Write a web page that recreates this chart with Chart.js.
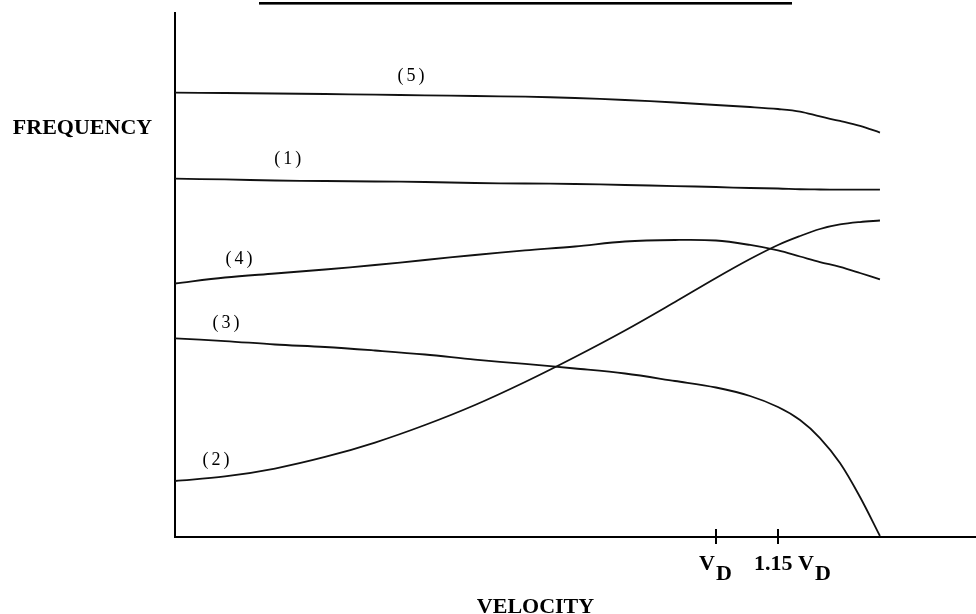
<!DOCTYPE html>
<html><head><meta charset="utf-8">
<script src="https://cdn.jsdelivr.net/npm/chart.js@4/dist/chart.umd.min.js"></script>
<style>html,body{margin:0;padding:0;background:#fff;overflow:hidden}</style>
</head><body>
<canvas id="c" width="976" height="614" style="display:block;width:976px;height:614px"></canvas>
<script>
// x: velocity (arbitrary units, axis spans 0..100); y: frequency (arbitrary units, 0..100)
const velocity = [0, 6.24, 12.48, 18.73, 24.97, 31.21, 37.45, 43.70, 49.94, 56.18, 62.42, 67.54, 71.79, 75.28, 78.03, 80.52, 83.02, 85.52, 88.01];
const curve1 = [68.38, 68.23, 68.03, 67.94, 67.84, 67.75, 67.56, 67.46, 67.37, 67.18, 66.98, 66.79, 66.60, 66.51, 66.36, 66.32, 66.30, 66.29, 66.28];
const curve2 = [10.69, 11.55, 13.07, 15.27, 18.03, 21.37, 25.19, 29.58, 34.35, 39.41, 44.85, 49.43, 53.05, 55.73, 57.44, 58.78, 59.64, 60.11, 60.40];
const curve3 = [37.92, 37.40, 36.74, 36.26, 35.59, 34.83, 33.84, 33.02, 32.16, 31.20, 29.77, 28.53, 26.91, 24.81, 22.33, 18.89, 14.12, 7.63, 0.19];
const curve4 = [48.38, 49.52, 50.29, 51.05, 51.91, 52.86, 53.82, 54.68, 55.44, 56.39, 56.68, 56.58, 55.73, 54.68, 53.53, 52.48, 51.53, 50.38, 49.18];
const curve5 = [84.79, 84.73, 84.64, 84.54, 84.41, 84.29, 84.16, 84.03, 83.78, 83.40, 82.92, 82.44, 82.06, 81.68, 81.20, 80.25, 79.39, 78.44, 77.19];
const seriesNames = ['(1)', '(2)', '(3)', '(4)', '(5)'];
const labelVelocity = [14.07, 5.12, 6.37, 7.99, 29.46];
const labelFrequency = [72.0, 14.69, 40.84, 53.05, 87.84];
const tickValues = [67.54, 75.28];
const tickMain = ['V', '1.15 V'];
const tickSub = ['D', 'D'];
const xTitle = 'VELOCITY';
const yTitle = 'FREQUENCY';

const allCurves = [curve1, curve2, curve3, curve4, curve5];
const datasets = allCurves.map((c, i) => ({
  label: seriesNames[i],
  data: velocity.map((v, j) => ({x: v, y: c[j]})),
  borderColor: '#111',
  borderWidth: 1.8,
  pointRadius: 0,
  fill: false,
  tension: 0.35,
  clip: false
}));

const serif = "'Liberation Serif', 'Times New Roman', serif";

const decor = {
  id: 'decor',
  afterDraw(chart) {
    const ctx = chart.ctx;
    const xs = chart.scales.x, ys = chart.scales.y;
    ctx.save();
    ctx.fillStyle = '#000';
    ctx.strokeStyle = '#000';
    // title underline
    ctx.fillRect(259, 2, 533, 2.6);
    // axis titles
    ctx.font = "bold 22px " + serif;
    ctx.textAlign = 'center';
    ctx.textBaseline = 'alphabetic';
    ctx.fillText(yTitle, 82.5, 133.5);
    ctx.fillText(xTitle, 535.5, 613);
    // tick marks and labels
    ctx.lineWidth = 2;
    tickValues.forEach((v, i) => {
      const px = Math.round(xs.getPixelForValue(v));
      ctx.beginPath();
      ctx.moveTo(px, ys.bottom - 8);
      ctx.lineTo(px, ys.bottom + 7);
      ctx.stroke();
      ctx.font = "bold 22px " + serif;
      ctx.textAlign = 'left';
      const start = i === 0 ? px - 17 : px - 24;
      ctx.fillText(tickMain[i], start, 570);
      const w = ctx.measureText(tickMain[i]).width;
      ctx.fillText(tickSub[i], start + w + 1, 580);
    });
    // series labels
    ctx.font = "18px " + serif;
    ctx.letterSpacing = '3px';
    ctx.textAlign = 'center';
    ctx.textBaseline = 'middle';
    seriesNames.forEach((n, i) => {
      ctx.fillText(n, xs.getPixelForValue(labelVelocity[i]) + 1.5, ys.getPixelForValue(labelFrequency[i]));
    });
    ctx.restore();
  }
};

new Chart(document.getElementById('c'), {
  type: 'line',
  data: {datasets},
  options: {
    responsive: false,
    animation: false,
    devicePixelRatio: 1,
    layout: {padding: {left: 175, top: 13, right: 0, bottom: 77}},
    plugins: {legend: {display: false}, tooltip: {enabled: false}, title: {display: false}},
    scales: {
      x: {
        type: 'linear', min: 0, max: 100,
        ticks: {display: false},
        grid: {display: true, drawOnChartArea: false, drawTicks: false},
        border: {display: true, color: '#000', width: 2}
      },
      y: {
        type: 'linear', min: 0, max: 100,
        ticks: {display: false},
        grid: {display: true, drawOnChartArea: false, drawTicks: false},
        border: {display: true, color: '#000', width: 2}
      }
    }
  },
  plugins: [decor]
});
</script>
</body></html>
